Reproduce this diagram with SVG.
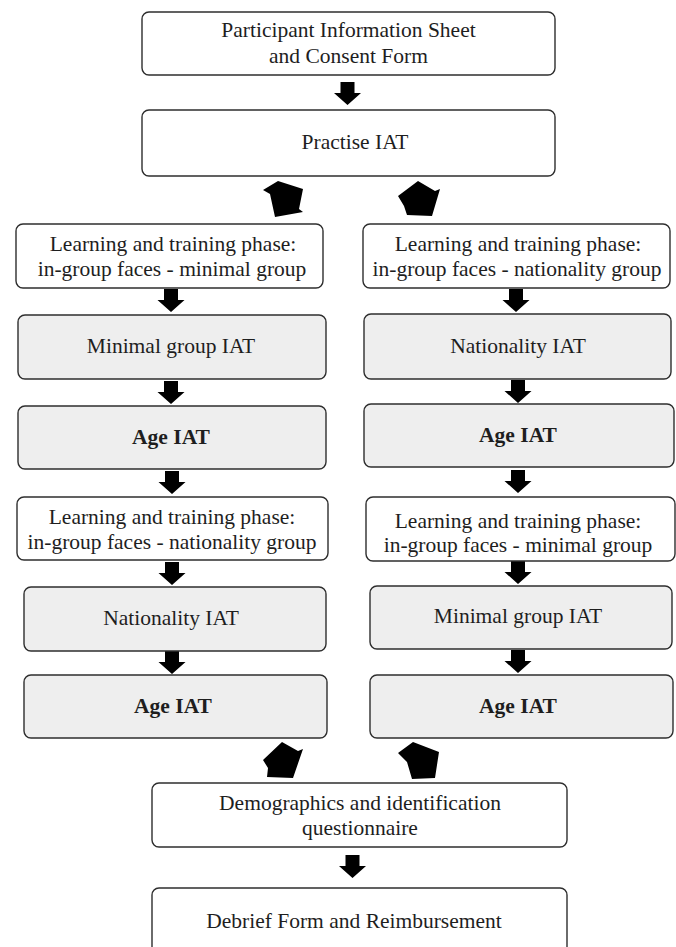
<svg xmlns="http://www.w3.org/2000/svg" xmlns:xlink="http://www.w3.org/1999/xlink" width="676" height="947" viewBox="0 0 676 947">
<style>
.box{fill:#ffffff;stroke:#2e2e2e;stroke-width:1.4}
.g{fill:#eeeeee}
.t{font-family:"Liberation Serif","Times New Roman",serif;font-size:21.5px;fill:#1e1e1e;text-anchor:middle}
.b{font-weight:bold}
.arr{fill:#000000}
</style>
<defs>
<path id="dn" d="M-7,0 H7 V11 H13.5 L0,23 L-13.5,11 H-7 Z"/>
</defs>
<rect width="676" height="947" fill="#ffffff"/>

<g id="connectors" class="arr">
<use xlink:href="#dn" x="347.5" y="82"/>
<polygon points="263,190 278,181 303,189 299,209 303,212 275,217 270,194"/>
<polygon points="398,196 418,181 435,191 440,189 432,216 407,215 404,206"/>
<use xlink:href="#dn" x="171" y="289"/>
<use xlink:href="#dn" x="171" y="381"/>
<use xlink:href="#dn" x="172" y="471"/>
<use xlink:href="#dn" x="172" y="562"/>
<use xlink:href="#dn" x="172" y="651"/>
<use xlink:href="#dn" x="516" y="289"/>
<use xlink:href="#dn" x="518" y="380"/>
<use xlink:href="#dn" x="518" y="470"/>
<use xlink:href="#dn" x="518" y="561"/>
<use xlink:href="#dn" x="518" y="650"/>
<polygon points="263,760 282,742 298,751 303,749 293,778 267,777 268,768"/>
<polygon points="398,753 413,742 439,752 435,778 412,779 407,762"/>
<use xlink:href="#dn" x="352.5" y="855"/>
</g>

<g id="consent">
<rect class="box" x="142" y="12" width="413" height="63" rx="7"/>
<text class="t" x="348.5" y="37">Participant Information Sheet</text>
<text class="t" x="348.5" y="63">and Consent Form</text>
</g>
<g id="practise">
<rect class="box" x="142" y="110" width="413" height="66" rx="7"/>
<text class="t" x="355" y="148.5">Practise IAT</text>
</g>

<g id="left-learn1">
<rect class="box" x="16" y="224" width="307" height="64" rx="7"/>
<text class="t" x="173" y="251">Learning and training phase:</text>
<text class="t" x="172" y="276">in-group faces - minimal group</text>
</g>
<g id="left-minimal">
<rect class="box g" x="18" y="315" width="308" height="64" rx="7"/>
<text class="t" x="171" y="352.5">Minimal group IAT</text>
</g>
<g id="left-age1">
<rect class="box g" x="18" y="406" width="308" height="63" rx="7"/>
<text class="t b" x="171" y="444">Age IAT</text>
</g>
<g id="left-learn2">
<rect class="box" x="17" y="497" width="311" height="63" rx="7"/>
<text class="t" x="172" y="524">Learning and training phase:</text>
<text class="t" x="172" y="549">in-group faces - nationality group</text>
</g>
<g id="left-nationality">
<rect class="box g" x="24" y="587" width="302" height="64" rx="7"/>
<text class="t" x="171" y="624.5">Nationality IAT</text>
</g>
<g id="left-age2">
<rect class="box g" x="24" y="675" width="303" height="63" rx="7"/>
<text class="t b" x="173" y="713">Age IAT</text>
</g>

<g id="right-learn1">
<rect class="box" x="363" y="224" width="307" height="64" rx="7"/>
<text class="t" x="518" y="251">Learning and training phase:</text>
<text class="t" x="517" y="276">in-group faces - nationality group</text>
</g>
<g id="right-nationality">
<rect class="box g" x="364" y="314" width="307" height="65" rx="7"/>
<text class="t" x="518" y="352.5">Nationality IAT</text>
</g>
<g id="right-age1">
<rect class="box g" x="364" y="404" width="310" height="63" rx="7"/>
<text class="t b" x="518" y="442">Age IAT</text>
</g>
<g id="right-learn2">
<rect class="box" x="366" y="497" width="309" height="64" rx="7"/>
<text class="t" x="518" y="528">Learning and training phase:</text>
<text class="t" x="518" y="552">in-group faces - minimal group</text>
</g>
<g id="right-minimal">
<rect class="box g" x="370" y="586" width="302" height="63" rx="7"/>
<text class="t" x="518" y="623">Minimal group IAT</text>
</g>
<g id="right-age2">
<rect class="box g" x="370" y="675" width="303" height="63" rx="7"/>
<text class="t b" x="518" y="713">Age IAT</text>
</g>

<g id="demographics">
<rect class="box" x="152" y="783" width="415" height="64" rx="7"/>
<text class="t" x="360" y="810">Demographics and identification</text>
<text class="t" x="360" y="835">questionnaire</text>
</g>
<g id="debrief">
<rect class="box" x="152" y="888" width="415" height="80" rx="7"/>
<text class="t" x="354" y="928">Debrief Form and Reimbursement</text>
</g>
</svg>
